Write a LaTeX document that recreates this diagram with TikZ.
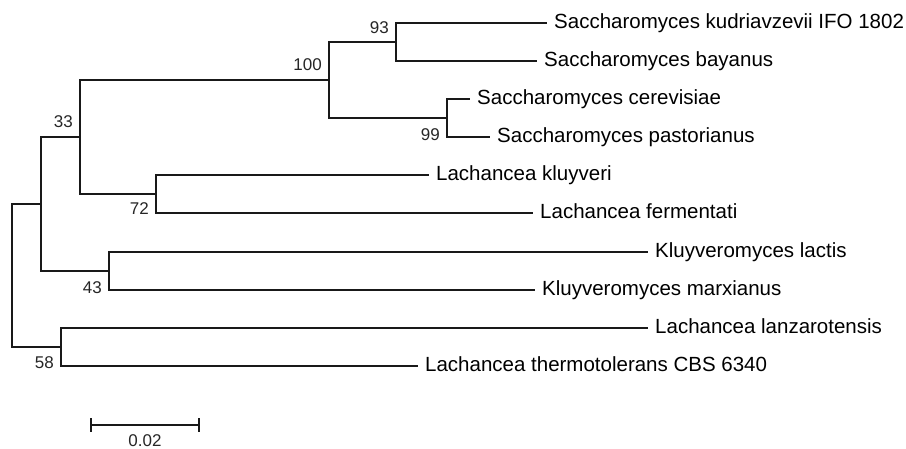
\documentclass[tikz,border=0pt]{standalone}
\usepackage{fontspec}
\setmainfont{Liberation Sans}
\usetikzlibrary{calc}
\tikzset{
  taxon/.style={anchor=west,inner xsep=7pt,inner ysep=0pt,
    font=\fontsize{20.5}{20.5}\selectfont,text height=14pt,text depth=4pt},
  branch/.style={draw=black!90,line width=1.6pt},
  boot/.style={anchor=east,inner sep=0pt,font=\fontsize{17}{17}\selectfont,text=black!85},
  sbar/.style={draw=black!90,line width=1.6pt},
}

\begin{document}
\begin{tikzpicture}[x=1pt,y=-1pt]
  \useasboundingbox (0,0) rectangle (906,448);
  % internal nodes of the tree
  \coordinate (nR) at (12,275.5);
  \coordinate (nA) at (41,204);
  \coordinate (n33) at (80,137);
  \coordinate (n100) at (329,80);
  \coordinate (n93) at (396,42);
  \coordinate (n99) at (447,118);
  \coordinate (n72) at (156,194);
  \coordinate (n43) at (109,271);
  \coordinate (n58) at (61,347);
  % taxa
  \foreach \n/\x/\y/\t in {
      kud/547/23/{Saccharomyces kudriavzevii IFO 1802},
      bay/537/61/{Saccharomyces bayanus},
      cer/470/99/{Saccharomyces cerevisiae},
      pas/490/137/{Saccharomyces pastorianus},
      klu/429/175/{Lachancea kluyveri},
      fer/533/213/{Lachancea fermentati},
      lac/648/252/{Kluyveromyces lactis},
      mar/535/290/{Kluyveromyces marxianus},
      lan/648/328/{Lachancea lanzarotensis},
      the/418/366/{Lachancea thermotolerans CBS 6340}}
    \node[taxon] (\n) at (\x,\y) {\t};
  % branches
  \foreach \a/\b in {nR/nA,nR/n58,nA/n33,nA/n43,n33/n100,n33/n72,n100/n93,n100/n99}
    \draw[branch] (\a) |- (\b);
  \foreach \a/\b in {n93/kud,n93/bay,n99/cer,n99/pas,n72/klu,n72/fer,
      n43/lac,n43/mar,n58/lan,n58/the}
    \draw[branch] (\a) |- (\b.west);
  % bootstrap values
  \node[boot] (b93) at ($(n93)+(-7,-14)$) {93};
  \node[boot] (b100) at ($(n100)+(-7,-15)$) {100};
  \node[boot] (b33) at ($(n33)+(-7,-15)$) {33};
  \node[boot] (b99) at ($(n99)+(-7,17)$) {99};
  \node[boot] (b72) at ($(n72)+(-7,15)$) {72};
  \node[boot] (b43) at ($(n43)+(-7,17)$) {43};
  \node[boot] (b58) at ($(n58)+(-7,16)$) {58};
  % scale bar
  \coordinate (sbL) at (91,425);
  \coordinate (sbR) at (199,425);
  \draw[sbar] (sbL) -- (sbR);
  \draw[sbar] ($(sbL)+(0,-7)$) -- ($(sbL)+(0,7)$);
  \draw[sbar] ($(sbR)+(0,-7)$) -- ($(sbR)+(0,7)$);
  \node[boot,anchor=north] (sblab) at ($(sbL)!0.5!(sbR)+(0,9)$) {0.02};
\end{tikzpicture}
\end{document}
